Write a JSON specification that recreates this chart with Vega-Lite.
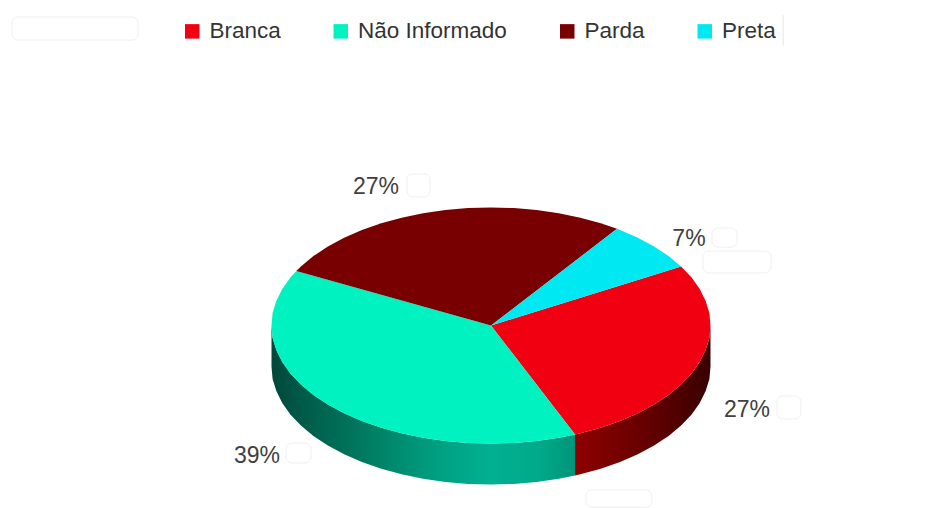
{"$schema":"https://vega.github.io/schema/vega-lite/v6.json","width":931,"height":508,"autosize":{"type":"fit","contains":"padding"},"padding":0,"background":"white","config":{"view":{"stroke":null},"text":{"font":"Liberation Sans"}},
"datasets":{
"patches":[{"u":-2.182,"u2":-1.608,"v":2.614,"v2":2.419},{"u":-0.383,"u2":-0.278,"v":1.284,"v2":1.089},{"u":1.007,"u2":1.121,"v":0.826,"v2":0.665},{"u":0.966,"u2":1.276,"v":0.631,"v2":0.445},{"u":1.303,"u2":1.412,"v":-0.597,"v2":-0.792},{"u":-0.934,"u2":-0.82,"v":-0.996,"v2":-1.165},{"u":0.433,"u2":0.733,"v":-1.394,"v2":-1.54},{"u":1.33,"u2":1.333,"v":2.631,"v2":2.369}],
"wallTeal":[{"u":-1,"v":0,"v2":-0.3475},{"u":-0.995,"v":-0.105,"v2":-0.4525},{"u":-0.978,"v":-0.208,"v2":-0.5555},{"u":-0.951,"v":-0.309,"v2":-0.6565},{"u":-0.914,"v":-0.407,"v2":-0.7545},{"u":-0.866,"v":-0.5,"v2":-0.8475},{"u":-0.809,"v":-0.588,"v2":-0.9355},{"u":-0.743,"v":-0.669,"v2":-1.0165},{"u":-0.669,"v":-0.743,"v2":-1.0905},{"u":-0.588,"v":-0.809,"v2":-1.1565},{"u":-0.5,"v":-0.866,"v2":-1.2135},{"u":-0.407,"v":-0.914,"v2":-1.2615},{"u":-0.309,"v":-0.951,"v2":-1.2985},{"u":-0.208,"v":-0.978,"v2":-1.3255},{"u":-0.105,"v":-0.995,"v2":-1.3425},{"u":0,"v":-1,"v2":-1.3475},{"u":0.105,"v":-0.995,"v2":-1.3425},{"u":0.208,"v":-0.978,"v2":-1.3255},{"u":0.309,"v":-0.951,"v2":-1.2985},{"u":0.383,"v":-0.924,"v2":-1.2715}],
"wallRed":[{"u":0.383,"v":-0.924,"v2":-1.2715},{"u":0.407,"v":-0.914,"v2":-1.2615},{"u":0.5,"v":-0.866,"v2":-1.2135},{"u":0.588,"v":-0.809,"v2":-1.1565},{"u":0.669,"v":-0.743,"v2":-1.0905},{"u":0.743,"v":-0.669,"v2":-1.0165},{"u":0.809,"v":-0.588,"v2":-0.9355},{"u":0.866,"v":-0.5,"v2":-0.8475},{"u":0.914,"v":-0.407,"v2":-0.7545},{"u":0.951,"v":-0.309,"v2":-0.6565},{"u":0.978,"v":-0.208,"v2":-0.5555},{"u":0.995,"v":-0.105,"v2":-0.4525},{"u":1,"v":0,"v2":-0.3475}],
"slices":[
{"s":"Branca","o":0,"u":0,"v":0},{"s":"Branca","o":1,"u":0.383,"v":-0.924},{"s":"Branca","o":2,"u":0.407,"v":-0.914},{"s":"Branca","o":3,"u":0.5,"v":-0.866},{"s":"Branca","o":4,"u":0.588,"v":-0.809},{"s":"Branca","o":5,"u":0.669,"v":-0.743},{"s":"Branca","o":6,"u":0.743,"v":-0.669},{"s":"Branca","o":7,"u":0.809,"v":-0.588},{"s":"Branca","o":8,"u":0.866,"v":-0.5},{"s":"Branca","o":9,"u":0.914,"v":-0.407},{"s":"Branca","o":10,"u":0.951,"v":-0.309},{"s":"Branca","o":11,"u":0.978,"v":-0.208},{"s":"Branca","o":12,"u":0.995,"v":-0.105},{"s":"Branca","o":13,"u":1,"v":0},{"s":"Branca","o":14,"u":0.995,"v":0.105},{"s":"Branca","o":15,"u":0.978,"v":0.208},{"s":"Branca","o":16,"u":0.951,"v":0.309},{"s":"Branca","o":17,"u":0.914,"v":0.407},{"s":"Branca","o":18,"u":0.866,"v":0.5},
{"s":"Não Informado","o":0,"u":0,"v":0},{"s":"Não Informado","o":1,"u":-0.887,"v":0.462},{"s":"Não Informado","o":2,"u":-0.914,"v":0.407},{"s":"Não Informado","o":3,"u":-0.951,"v":0.309},{"s":"Não Informado","o":4,"u":-0.978,"v":0.208},{"s":"Não Informado","o":5,"u":-0.995,"v":0.105},{"s":"Não Informado","o":6,"u":-1,"v":0},{"s":"Não Informado","o":7,"u":-0.995,"v":-0.105},{"s":"Não Informado","o":8,"u":-0.978,"v":-0.208},{"s":"Não Informado","o":9,"u":-0.951,"v":-0.309},{"s":"Não Informado","o":10,"u":-0.914,"v":-0.407},{"s":"Não Informado","o":11,"u":-0.866,"v":-0.5},{"s":"Não Informado","o":12,"u":-0.809,"v":-0.588},{"s":"Não Informado","o":13,"u":-0.743,"v":-0.669},{"s":"Não Informado","o":14,"u":-0.669,"v":-0.743},{"s":"Não Informado","o":15,"u":-0.588,"v":-0.809},{"s":"Não Informado","o":16,"u":-0.5,"v":-0.866},{"s":"Não Informado","o":17,"u":-0.407,"v":-0.914},{"s":"Não Informado","o":18,"u":-0.309,"v":-0.951},{"s":"Não Informado","o":19,"u":-0.208,"v":-0.978},{"s":"Não Informado","o":20,"u":-0.105,"v":-0.995},{"s":"Não Informado","o":21,"u":0,"v":-1},{"s":"Não Informado","o":22,"u":0.105,"v":-0.995},{"s":"Não Informado","o":23,"u":0.208,"v":-0.978},{"s":"Não Informado","o":24,"u":0.309,"v":-0.951},{"s":"Não Informado","o":25,"u":0.383,"v":-0.924},
{"s":"Parda","o":0,"u":0,"v":0},{"s":"Parda","o":1,"u":0.574,"v":0.819},{"s":"Parda","o":2,"u":0.5,"v":0.866},{"s":"Parda","o":3,"u":0.407,"v":0.914},{"s":"Parda","o":4,"u":0.309,"v":0.951},{"s":"Parda","o":5,"u":0.208,"v":0.978},{"s":"Parda","o":6,"u":0.105,"v":0.995},{"s":"Parda","o":7,"u":0,"v":1},{"s":"Parda","o":8,"u":-0.105,"v":0.995},{"s":"Parda","o":9,"u":-0.208,"v":0.978},{"s":"Parda","o":10,"u":-0.309,"v":0.951},{"s":"Parda","o":11,"u":-0.407,"v":0.914},{"s":"Parda","o":12,"u":-0.5,"v":0.866},{"s":"Parda","o":13,"u":-0.588,"v":0.809},{"s":"Parda","o":14,"u":-0.669,"v":0.743},{"s":"Parda","o":15,"u":-0.743,"v":0.669},{"s":"Parda","o":16,"u":-0.809,"v":0.588},{"s":"Parda","o":17,"u":-0.866,"v":0.5},{"s":"Parda","o":18,"u":-0.887,"v":0.462},
{"s":"Preta","o":0,"u":0,"v":0},{"s":"Preta","o":1,"u":0.866,"v":0.5},{"s":"Preta","o":2,"u":0.809,"v":0.588},{"s":"Preta","o":3,"u":0.743,"v":0.669},{"s":"Preta","o":4,"u":0.669,"v":0.743},{"s":"Preta","o":5,"u":0.588,"v":0.809},{"s":"Preta","o":6,"u":0.574,"v":0.819}],
"labels":[{"s":"Parda","pct":0.27,"u":-0.524,"v":1.17},{"s":"Preta","pct":0.07,"u":0.902,"v":0.733},{"s":"Branca","pct":0.27,"u":1.166,"v":-0.715},{"s":"Não Informado","pct":0.39,"u":-1.066,"v":-1.105}]
},
"layer":[
{"data":{"name":"patches"},"mark":{"type":"rect","fill":"white","stroke":"#efefef","strokeWidth":1,"cornerRadius":6},"encoding":{"x":{"field":"u","type":"quantitative","scale":{"domain":[-2.2369,2.0046],"nice":false,"zero":false},"axis":null},"x2":{"field":"u2"},"y":{"field":"v","type":"quantitative","scale":{"domain":[-1.5466,2.7585],"nice":false,"zero":false},"axis":null},"y2":{"field":"v2"}}},
{"data":{"name":"wallTeal"},"mark":{"type":"area","fill":{"gradient":"linear","x1":0,"y1":0,"x2":1,"y2":0,"stops":[{"offset":0,"color":"#01473a"},{"offset":0.1,"color":"#005a48"},{"offset":0.3,"color":"#007a60"},{"offset":0.55,"color":"#00a082"},{"offset":0.72,"color":"#00b090"},{"offset":0.88,"color":"#00aa8a"},{"offset":1,"color":"#00957a"}]}},"encoding":{"x":{"field":"u","type":"quantitative"},"y":{"field":"v","type":"quantitative"},"y2":{"field":"v2"}}},
{"data":{"name":"wallRed"},"mark":{"type":"area","fill":{"gradient":"linear","x1":0,"y1":0,"x2":1,"y2":0,"stops":[{"offset":0,"color":"#8e0000"},{"offset":0.4,"color":"#700000"},{"offset":1,"color":"#3a0000"}]}},"encoding":{"x":{"field":"u","type":"quantitative"},"y":{"field":"v","type":"quantitative"},"y2":{"field":"v2"}}},
{"data":{"name":"slices"},"mark":{"type":"line","filled":true,"strokeWidth":0},"encoding":{"x":{"field":"u","type":"quantitative"},"y":{"field":"v","type":"quantitative"},"order":{"field":"o","type":"quantitative"},"color":{"field":"s","type":"nominal","scale":{"domain":["Branca","Não Informado","Parda","Preta"],"range":["#f00010","#00f2c0","#780000","#00e8f2"]},"legend":{"title":null,"orient":"none","legendX":181,"legendY":20,"direction":"horizontal","symbolType":"square","symbolSize":210,"symbolStrokeWidth":0,"labelFont":"Liberation Sans","labelFontSize":22.5,"labelColor":"#333333","labelOffset":6,"columnPadding":48.5,"symbolOpacity":1}}}},
{"data":{"name":"labels"},"mark":{"type":"text","font":"Liberation Sans","fontSize":23,"color":"#404040"},"encoding":{"x":{"field":"u","type":"quantitative"},"y":{"field":"v","type":"quantitative"},"text":{"field":"pct","type":"quantitative","format":".0%"}}}
]}
